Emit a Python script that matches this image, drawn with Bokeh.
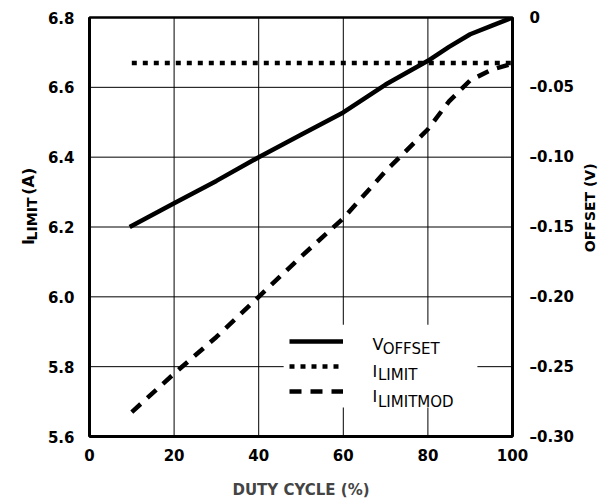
import math
from bokeh.plotting import figure
from bokeh.layouts import row
from bokeh.models import (Range1d, LinearAxis, FixedTicker, CustomJSTickFormatter,
                          Label, Legend, LegendItem, Span, BoxAnnotation)
from bokeh.embed import file_html
from bokeh.resources import INLINE

# ---- data ----
duty_voffset = [9.5, 20, 30, 40, 50, 60, 70, 80, 85, 90, 95, 100]
voffset = [-0.150, -0.133, -0.117, -0.100, -0.084, -0.068, -0.048, -0.031, -0.021, -0.012, -0.006, 0.0]
duty_ilimit = [10, 100]
ilimit = [6.67, 6.67]
duty_ilimitmod = [10, 20, 30, 40, 50, 60, 70, 80, 85, 90, 95, 100]
ilimitmod = [5.67, 5.78, 5.885, 6.0, 6.115, 6.225, 6.36, 6.48, 6.56, 6.62, 6.65, 6.668]
x_ticks = [0, 20, 40, 60, 80, 100]
left_ticks = [5.6, 5.8, 6.0, 6.2, 6.4, 6.6, 6.8]
right_ticks = [-0.30, -0.25, -0.20, -0.15, -0.10, -0.05, 0.0]

FONT = "DejaVu Sans"
H = 501
LW, MW, RW = 40, 539, 21

p = figure(width=MW, height=H, x_range=Range1d(0, 100), y_range=Range1d(5.6, 6.8),
           output_backend="svg", toolbar_location=None,
           min_border_left=49, min_border_right=67, min_border_top=17, min_border_bottom=64)
p.extra_y_ranges = {"offset": Range1d(-0.30, 0.0)}
p.background_fill_color = "white"
p.border_fill_color = "white"
p.outline_line_color = "black"
p.outline_line_width = 2.5
p.outline_line_alpha = 1

# axes
p.xaxis.ticker = FixedTicker(ticks=x_ticks)
p.yaxis.ticker = FixedTicker(ticks=left_ticks)
p.yaxis.formatter = CustomJSTickFormatter(code="return tick.toFixed(1);")
p.xaxis.axis_label = "DUTY CYCLE (%)"
p.xaxis.axis_label_text_font = FONT
p.xaxis.axis_label_text_font_style = "bold"
p.xaxis.axis_label_text_font_size = "15px"
p.xaxis.axis_label_standoff = 17

right = LinearAxis(y_range_name="offset", ticker=FixedTicker(ticks=right_ticks),
                   formatter=CustomJSTickFormatter(
                       code="return Math.abs(tick) < 1e-9 ? '0' : '\u2013' + Math.abs(tick).toFixed(2);"))
p.add_layout(right, "right")

for ax in [p.xaxis[0], p.yaxis[0], right]:
    ax.major_tick_line_color = None
    ax.minor_tick_line_color = None
    ax.axis_line_width = 3
    ax.axis_line_color = "black"
    ax.major_label_text_font = FONT
    ax.major_label_text_font_style = "bold"
    ax.major_label_text_font_size = "15px"
    ax.major_label_text_color = "black"
p.xaxis.major_label_standoff = 6
p.yaxis.major_label_standoff = 9
right.major_label_standoff = 11

p.grid.grid_line_color = None

# grid lines at the tick positions
for t in x_ticks[1:-1]:
    p.add_layout(Span(location=t, dimension="height", line_color="black", line_width=1))
for t in left_ticks[1:-1]:
    p.add_layout(Span(location=t, dimension="width", line_color="black", line_width=1))

# data lines
r_v = p.line(duty_voffset, voffset, y_range_name="offset", line_color="black", line_width=4.5)
r_i = p.line(duty_ilimit, ilimit, line_color="black", line_width=4.5, line_dash="5 6")
r_m = p.line(duty_ilimitmod, ilimitmod, line_color="black", line_width=4.5, line_dash="12 9")

# white legend background (covers grid lines)
p.add_layout(BoxAnnotation(left=45.9, right=91.7, bottom=5.683, top=5.92,
                           fill_color="white", fill_alpha=1, line_color=None, line_alpha=0))

legend = Legend(items=[LegendItem(label=" ", renderers=[r_v]),
                       LegendItem(label=" ", renderers=[r_i]),
                       LegendItem(label=" ", renderers=[r_m])],
                location=(194, 29), glyph_width=54, glyph_height=20, label_width=120,
                label_height=20, label_standoff=8, padding=6, spacing=5, margin=0,
                border_line_alpha=0, background_fill_alpha=0)
p.add_layout(legend)

def lab(fig, x, y, text, size, style="normal", angle=0, align="left"):
    fig.add_layout(Label(x=x, y=y, text=text, text_font=FONT, text_font_size=size,
                         text_font_style=style, angle=angle, text_align=align,
                         text_baseline="alphabetic", text_color="black", level="overlay"))

# legend texts with subscripts
lab(p, 66.9, 5.863, "V", "16px")
lab(p, 69.3, 5.850, "OFFSET", "15px")
lab(p, 66.9, 5.787, "I", "16px")
lab(p, 68.2, 5.775, "LIMIT", "15px")
lab(p, 66.9, 5.714, "I", "16px")
lab(p, 68.2, 5.698, "LIMITMOD", "15px")

def side(w):
    f = figure(width=w, height=H, x_range=Range1d(0, w), y_range=Range1d(0, H),
               output_backend="svg", toolbar_location=None, x_axis_type=None, y_axis_type=None,
               min_border=0, min_border_left=0, min_border_right=0,
               min_border_top=0, min_border_bottom=0)
    f.outline_line_color = None
    f.grid.grid_line_color = None
    f.background_fill_color = "white"
    f.border_fill_color = "white"
    return f

# left axis title (rotated, with subscript)
pl = side(LW)
lab(pl, 28, H - 272, "I", "16px", "bold", math.pi / 2)
lab(pl, 31.7, H - 266.5, "LIMIT", "14px", "bold", math.pi / 2)
lab(pl, 28, H - 212, "(A)", "16px", "bold", math.pi / 2)

# right axis title
pr = side(RW)
lab(pr, 10.5, H - 227.5, "OFFSET (V)", "14px", "bold", math.pi / 2, "center")

layout = row(pl, p, pr, spacing=0)
open("out.html", "w").write(file_html(layout, INLINE))
